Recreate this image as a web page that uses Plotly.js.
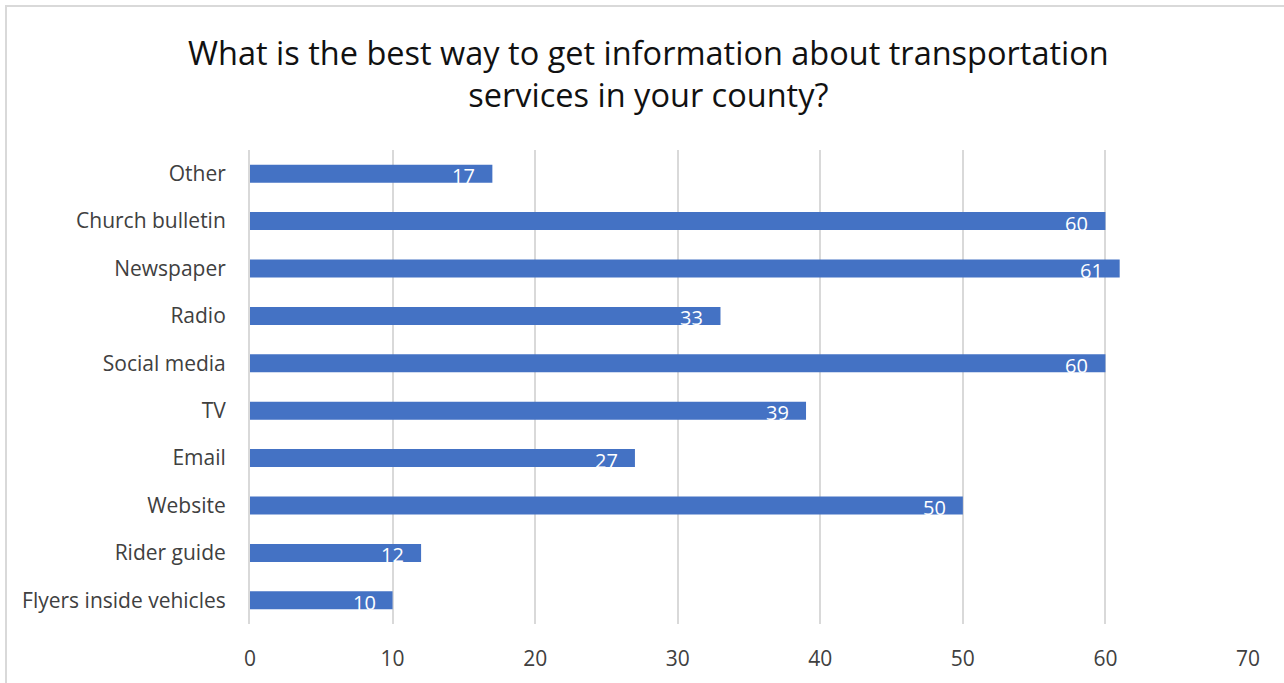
<!DOCTYPE html>
<html>
<head>
<meta charset="utf-8">
<script src="https://cdn.plot.ly/plotly-3.0.1.min.js"></script>
<style>
  html, body { margin: 0; padding: 0; background: #ffffff; overflow: hidden; }
  #frame { position: absolute; left: 5px; top: 5px; width: 1300px; height: 700px; border: 2px solid #d9d9d9; box-sizing: border-box; pointer-events: none; z-index: 2; }
  #chart { position: absolute; left: 0; top: 0; width: 1284px; height: 683px; }
</style>
</head>
<body>
<div id="chart"></div>
<div id="frame"></div>
<script>
const categories = ["Flyers inside vehicles", "Rider guide", "Website", "Email", "TV", "Social media", "Radio", "Newspaper", "Church bulletin", "Other"];
const values = [10, 12, 50, 27, 39, 60, 33, 61, 60, 17];
const xTicks = [0, 10, 20, 30, 40, 50, 60, 70];
const titleText = "What is the best way to get information about transportation<br>services in your county?";

const FONT = "'Open Sans', sans-serif";

const trace = {
  type: "bar",
  orientation: "h",
  y: categories,
  x: values,
  marker: { color: "#4472C4" },
  hoverinfo: "x+y"
};

const annotations = categories.map((c, i) => ({
  x: values[i],
  y: c,
  xref: "x",
  yref: "y",
  text: String(values[i]),
  showarrow: false,
  xanchor: "right",
  yanchor: "middle",
  xshift: -15,
  yshift: -2,
  font: { family: FONT, size: 20, color: "#ffffff" }
}));

const layout = {
  width: 1284,
  height: 683,
  paper_bgcolor: "rgba(0,0,0,0)",
  plot_bgcolor: "#ffffff",
  margin: { l: 250, r: 36, t: 150, b: 59 },
  bargap: 0.62,
  showlegend: false,
  title: {
    text: titleText,
    font: { family: FONT, size: 32.5, color: "#111111" },
    x: 0.505,
    xref: "container",
    xanchor: "center",
    y: 0.905,
    yref: "container",
    yanchor: "middle"
  },
  font: { family: FONT, color: "#404040", size: 21 },
  xaxis: {
    range: [0, 70],
    tickvals: xTicks,
    ticktext: xTicks.map(String),
    showgrid: true,
    gridcolor: "#d9d9d9",
    gridwidth: 2,
    zeroline: false,
    showline: false,
    ticks: "",
    ticklabelstandoff: 20,
    tickfont: { family: FONT, size: 21, color: "#404040" },
    fixedrange: true
  },
  yaxis: {
    type: "category",
    categoryorder: "array",
    categoryarray: categories,
    showgrid: false,
    zeroline: false,
    showline: true,
    linecolor: "#d9d9d9",
    linewidth: 2,
    ticks: "",
    ticklabelstandoff: 18,
    tickfont: { family: FONT, size: 21, color: "#404040" },
    fixedrange: true
  },
  annotations: annotations
};

Plotly.newPlot("chart", [trace], layout, { displayModeBar: false, staticPlot: true });
</script>
</body>
</html>
